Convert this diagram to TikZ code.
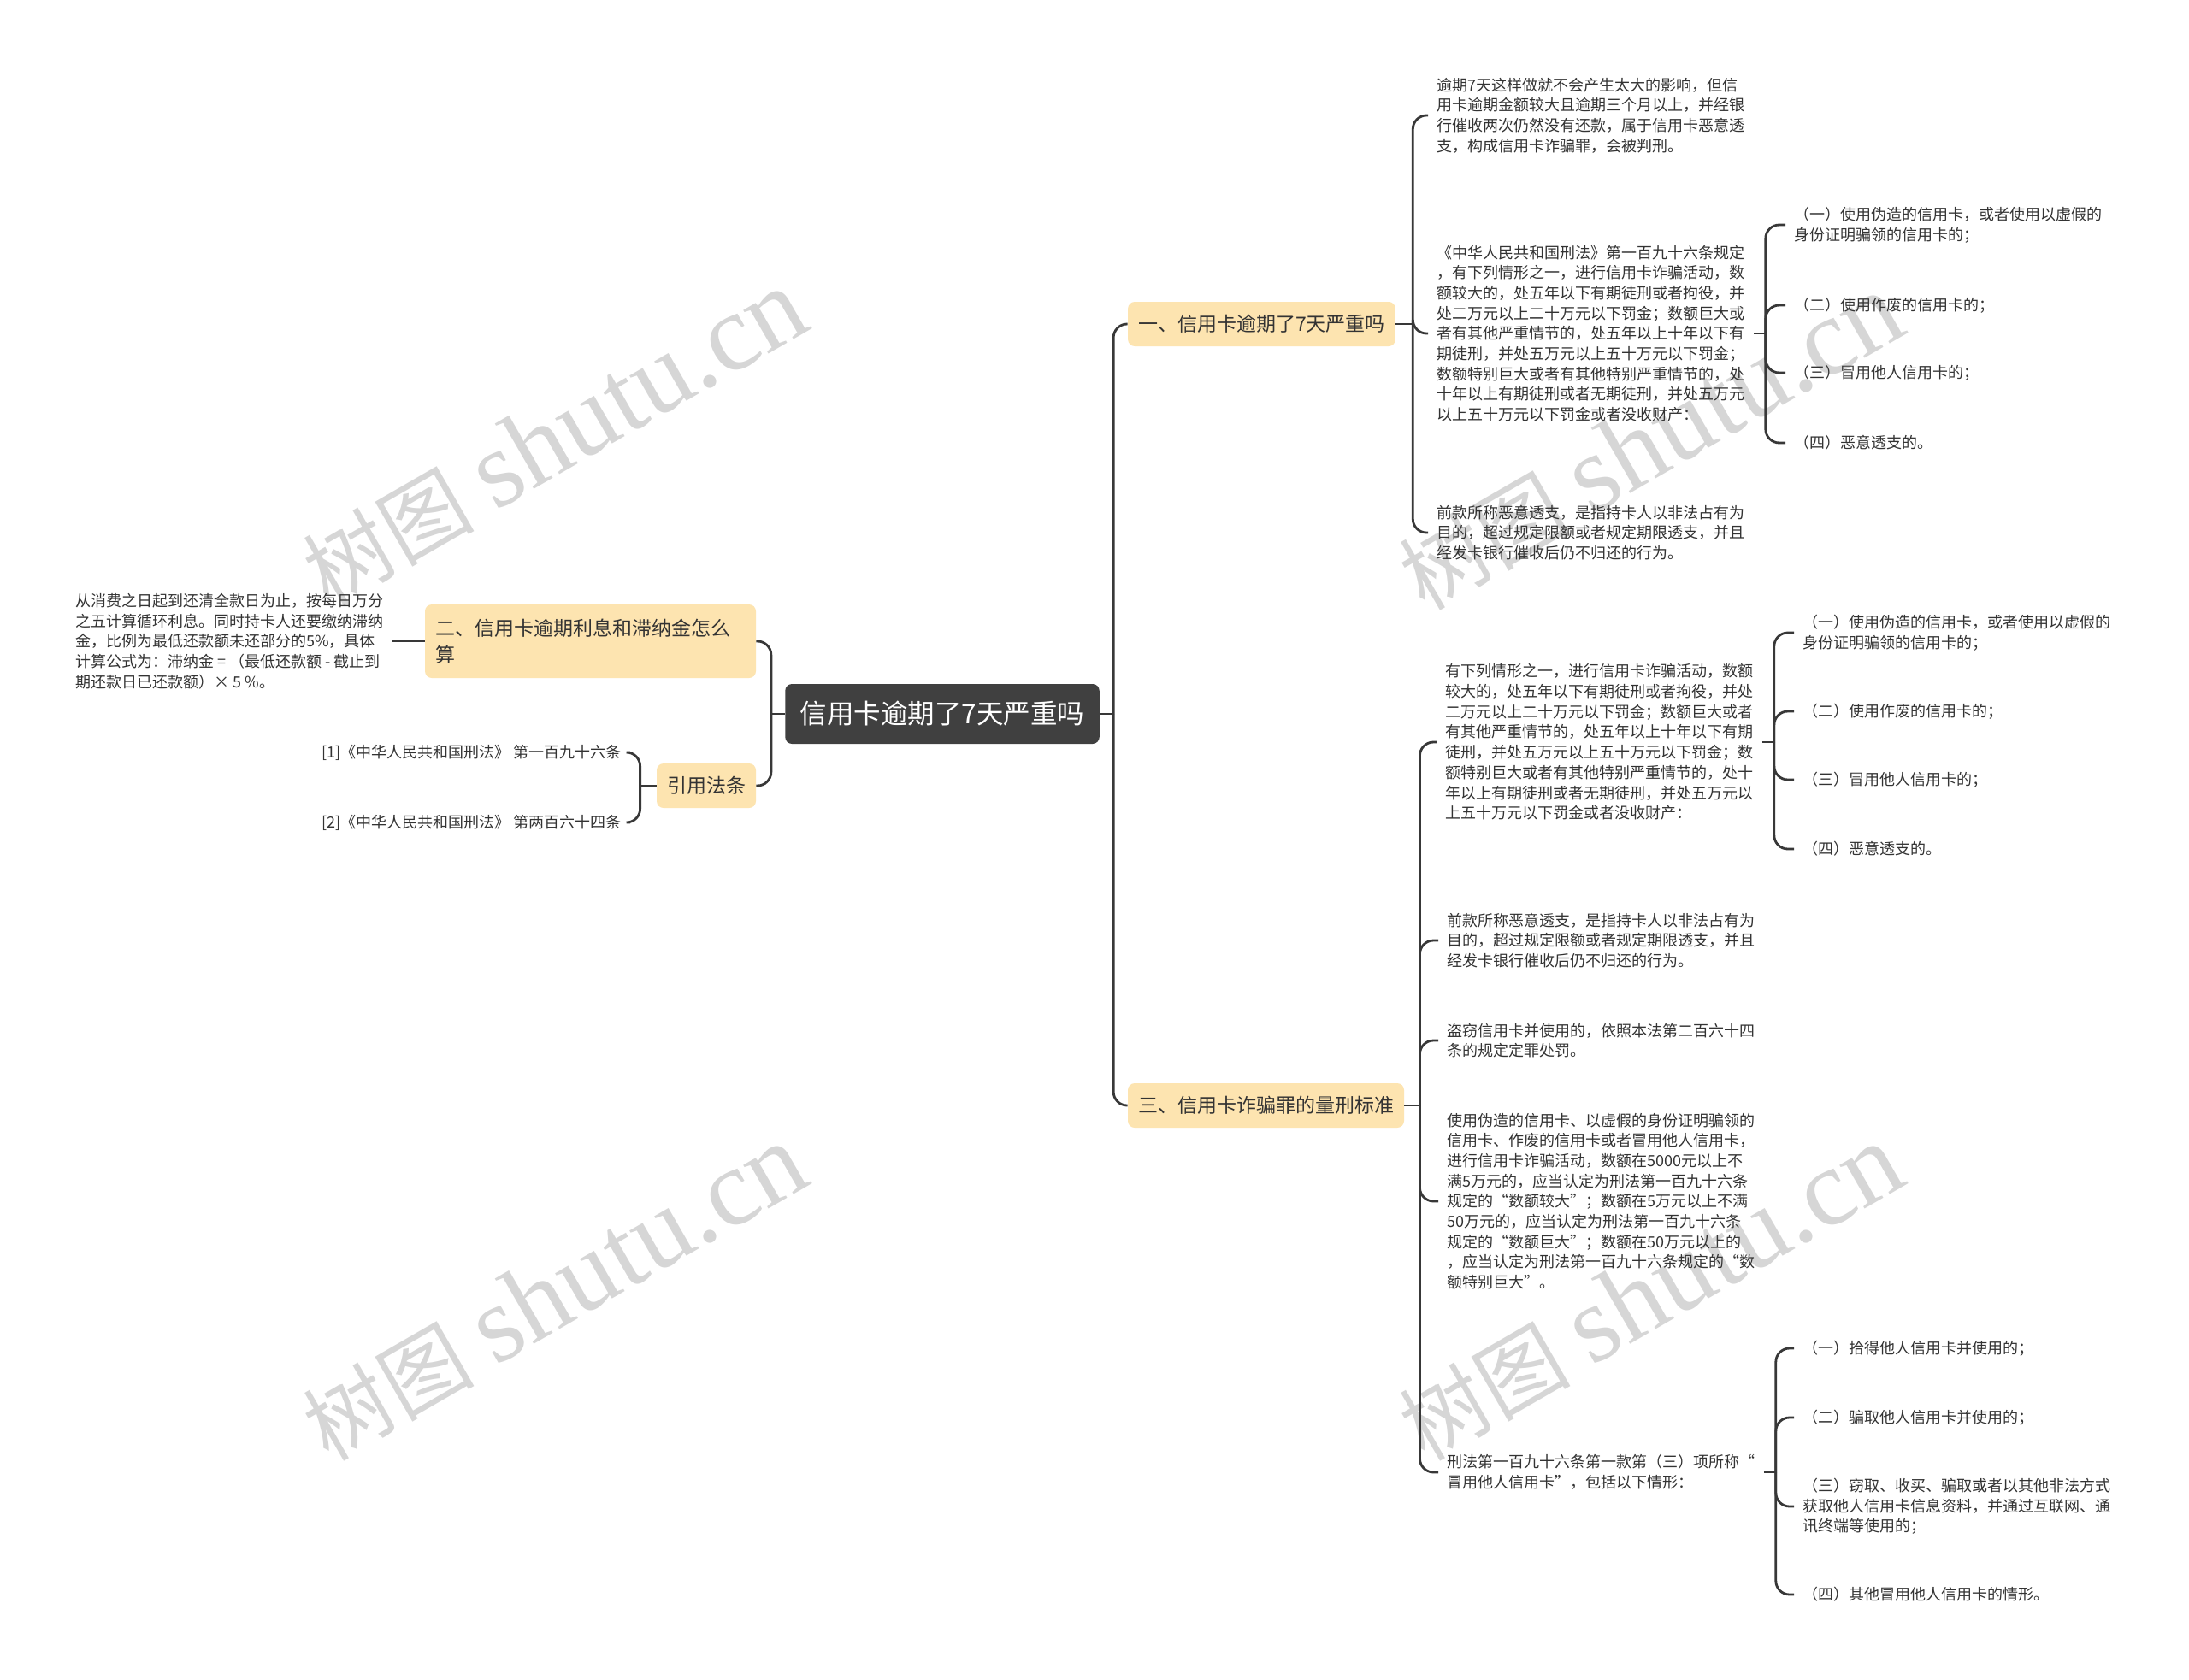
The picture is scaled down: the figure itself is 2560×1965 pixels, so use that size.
\documentclass[tikz,border=0pt]{standalone}
\usepackage{fontspec}
\setmainfont{Noto Sans CJK SC}
\newfontfamily\wmserif{Liberation Serif}
\definecolor{linec}{HTML}{383838}
\definecolor{txtc}{HTML}{333333}
\definecolor{lvlfill}{HTML}{FDE4B0}
\definecolor{rootfill}{HTML}{404040}
\definecolor{wmc}{HTML}{D6D6D6}
\tikzset{
  leaf/.style={anchor=west, inner xsep=5pt, inner ysep=0pt, align=left, text=txtc, font=\fontsize{9}{11.85}\selectfont},
  lvl/.style={fill=lvlfill, rounded corners=4pt, text=txtc, font=\fontsize{11.5}{15.5}\selectfont, inner xsep=6pt, inner ysep=0pt, minimum height=26pt},
  rootbox/.style={fill=rootfill, rounded corners=4pt, text=white, font=\fontsize{15.75}{19}\selectfont, inner xsep=8.75pt, inner ysep=0pt, minimum height=35pt},
  conn/.style={draw=linec, line width=1.4pt, rounded corners=8pt},
  wm/.style={text=wmc, rotate=30, inner sep=0pt}
}
\begin{document}
\begin{tikzpicture}[x=0.5pt,y=-0.5pt]
\fill[white] (0,0) rectangle (2560,1965);
\useasboundingbox (0,0) rectangle (2560,1965);
% watermarks
\foreach \p [count=\i] in {(648,512),(1930,517),(648,1512),(1930,1512)}{
  \node[wm] (wm\i) at \p {\fontsize{50}{50}\selectfont 树图\hspace{0.25em}{\wmserif\fontsize{64}{64}\selectfont shutu.cn}};
}
% root
\node[rootbox] (root) at (1102,835) {信用卡逾期了7天严重吗};
% level 1
\node[lvl] (n1) at (1475.5,379) {一、信用卡逾期了7天严重吗};
\node[lvl] (n3) at (1480.5,1293) {三、信用卡诈骗罪的量刑标准};
\node[lvl, text width=181.5pt, align=left, minimum height=43pt] (n2) at (690.5,750) {二、信用卡逾期利息和滞纳金怎么\\算};
\node[lvl] (n4) at (826,919) {引用法条};
% left leaves
\node[leaf] (lz) at (78,750) {从消费之日起到还清全款日为止，按每日万分\\之五计算循环利息。同时持卡人还要缴纳滞纳\\金，比例为最低还款额未还部分的5\%，具体\\计算公式为：滞纳金 = （最低还款额 - 截止到\\期还款日已还款额）× 5 \%。};
\node[leaf, anchor=east] (r1) at (737,880) {[1]《中华人民共和国刑法》 第一百九十六条};
\node[leaf, anchor=east] (r2) at (737,962) {[2]《中华人民共和国刑法》 第两百六十四条};
% branch one leaves
\node[leaf] (l1a) at (1670,135) {逾期7天这样做就不会产生太大的影响，但信\\用卡逾期金额较大且逾期三个月以上，并经银\\行催收两次仍然没有还款，属于信用卡恶意透\\支，构成信用卡诈骗罪，会被判刑。};
\node[leaf] (l1b) at (1670,390) {《中华人民共和国刑法》第一百九十六条规定\\，有下列情形之一，进行信用卡诈骗活动，数\\额较大的，处五年以下有期徒刑或者拘役，并\\处二万元以上二十万元以下罚金；数额巨大或\\者有其他严重情节的，处五年以上十年以下有\\期徒刑，并处五万元以上五十万元以下罚金；\\数额特别巨大或者有其他特别严重情节的，处\\十年以上有期徒刑或者无期徒刑，并处五万元\\以上五十万元以下罚金或者没收财产：};
\node[leaf] (l1c) at (1670,623) {前款所称恶意透支，是指持卡人以非法占有为\\目的，超过规定限额或者规定期限透支，并且\\经发卡银行催收后仍不归还的行为。};
\node[leaf] (l1b1) at (2088,263) {（一）使用伪造的信用卡，或者使用以虚假的\\身份证明骗领的信用卡的；};
\node[leaf] (l1b2) at (2088,357) {（二）使用作废的信用卡的；};
\node[leaf] (l1b3) at (2088,436) {（三）冒用他人信用卡的；};
\node[leaf] (l1b4) at (2088,518) {（四）恶意透支的。};
% branch three leaves
\node[leaf] (l3a) at (1680,868) {有下列情形之一，进行信用卡诈骗活动，数额\\较大的，处五年以下有期徒刑或者拘役，并处\\二万元以上二十万元以下罚金；数额巨大或者\\有其他严重情节的，处五年以上十年以下有期\\徒刑，并处五万元以上五十万元以下罚金；数\\额特别巨大或者有其他特别严重情节的，处十\\年以上有期徒刑或者无期徒刑，并处五万元以\\上五十万元以下罚金或者没收财产：};
\node[leaf] (l3b) at (1682,1100) {前款所称恶意透支，是指持卡人以非法占有为\\目的，超过规定限额或者规定期限透支，并且\\经发卡银行催收后仍不归还的行为。};
\node[leaf] (l3c) at (1682,1217) {盗窃信用卡并使用的，依照本法第二百六十四\\条的规定定罪处罚。};
\node[leaf] (l3d) at (1682,1405) {使用伪造的信用卡、以虚假的身份证明骗领的\\信用卡、作废的信用卡或者冒用他人信用卡，\\进行信用卡诈骗活动，数额在5000元以上不\\满5万元的，应当认定为刑法第一百九十六条\\规定的“数额较大”；数额在5万元以上不满\\50万元的，应当认定为刑法第一百九十六条\\规定的“数额巨大”；数额在50万元以上的\\，应当认定为刑法第一百九十六条规定的“数\\额特别巨大”。};
\node[leaf] (l3e) at (1682,1722) {刑法第一百九十六条第一款第（三）项所称“\\冒用他人信用卡”，包括以下情形：};
\node[leaf] (l3a1) at (2098,740) {（一）使用伪造的信用卡，或者使用以虚假的\\身份证明骗领的信用卡的；};
\node[leaf] (l3a2) at (2098,832) {（二）使用作废的信用卡的；};
\node[leaf] (l3a3) at (2098,912) {（三）冒用他人信用卡的；};
\node[leaf] (l3a4) at (2098,993) {（四）恶意透支的。};
\node[leaf] (l3e1) at (2098,1577) {（一）拾得他人信用卡并使用的；};
\node[leaf] (l3e2) at (2098,1658) {（二）骗取他人信用卡并使用的；};
\node[leaf] (l3e3) at (2098,1762) {（三）窃取、收买、骗取或者以其他非法方式\\获取他人信用卡信息资料，并通过互联网、通\\讯终端等使用的；};
\node[leaf] (l3e4) at (2098,1865) {（四）其他冒用他人信用卡的情形。};
% connectors: root left
\draw[conn] (root.west) -- ++(-16,0) coordinate (sL);
\draw[conn] (sL) |- (n2.east);
\draw[conn] (sL) |- (n4.east);
\draw[conn] (lz.east) -- (n2.west);
\draw[conn] (n4.west) -- ++(-19,0) coordinate (sR4);
\draw[conn] (sR4) |- (r1.east);
\draw[conn] (sR4) |- (r2.east);
% root right
\draw[conn] (root.east) -- ++(16,0) coordinate (sR);
\draw[conn] (sR) |- (n1.west);
\draw[conn] (sR) |- (n3.west);
% branch one
\draw[conn] (n1.east) -- ++(20,0) coordinate (s1);
\foreach \c in {l1a,l1b,l1c} \draw[conn] (s1) |- (\c.west);
\draw[conn] (l1b.east) -- ++(14,0) coordinate (s1b);
\foreach \c in {l1b1,l1b2,l1b3,l1b4} \draw[conn] (s1b) |- (\c.west);
% branch three
\draw[conn] (n3.east) -- ++(18,0) coordinate (s3);
\foreach \c in {l3a,l3b,l3c,l3d,l3e} \draw[conn] (s3) |- (\c.west);
\draw[conn] (l3a.east) -- ++(14,0) coordinate (s3a);
\foreach \c in {l3a1,l3a2,l3a3,l3a4} \draw[conn] (s3a) |- (\c.west);
\draw[conn] (l3e.east) -- ++(14,0) coordinate (s3e);
\foreach \c in {l3e1,l3e2,l3e3,l3e4} \draw[conn] (s3e) |- (\c.west);
\end{tikzpicture}
\end{document}
